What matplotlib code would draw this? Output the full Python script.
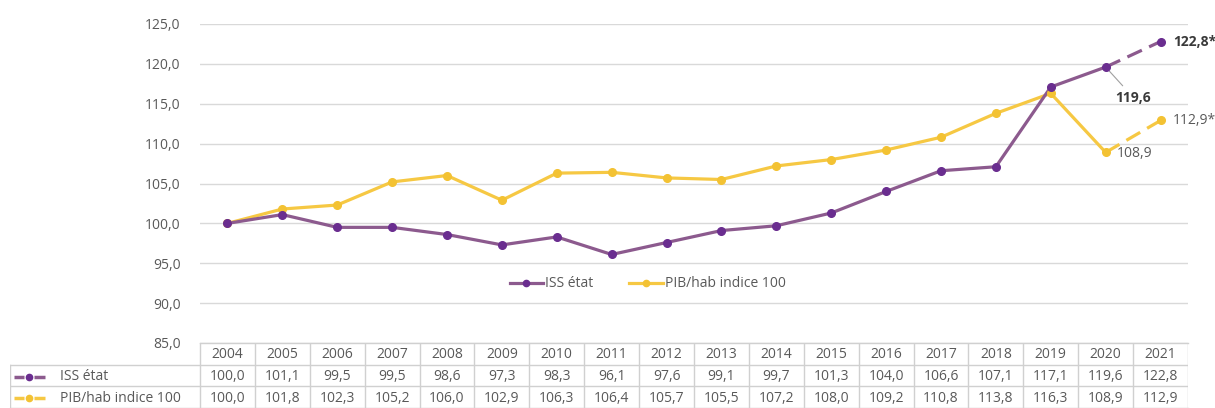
import matplotlib.pyplot as plt
import numpy as np

# Data
years = [2004, 2005, 2006, 2007, 2008, 2009, 2010, 2011, 2012,
         2013, 2014, 2015, 2016, 2017, 2018, 2019, 2020, 2021]
iss_etat = [100.0, 101.1, 99.5, 99.5, 98.6, 97.3, 98.3, 96.1, 97.6,
            99.1, 99.7, 101.3, 104.0, 106.6, 107.1, 117.1, 119.6, 122.8]
pib_hab = [100.0, 101.8, 102.3, 105.2, 106.0, 102.9, 106.3, 106.4, 105.7,
           105.5, 107.2, 108.0, 109.2, 110.8, 113.8, 116.3, 108.9, 112.9]
labels = ['ISS état', 'PIB/hab indice 100']
y_ticks = [85, 90, 95, 100, 105, 110, 115, 120, 125]

def fr(v):
    return f'{v:.1f}'.replace('.', ',')

plt.rcParams['font.family'] = ['Open Sans', 'DejaVu Sans']
grey = '#595959'
dark = '#3a3a3a'
purple_line = '#8c5a8e'
purple_mark = '#6a2d8f'
yellow = '#f6c843'
yellow_mark = '#f3c233'
gridc = '#d9d9d9'

W, H = 1215, 408
fig = plt.figure(figsize=(W / 100, H / 100), dpi=100)
ax = fig.add_axes([200 / W, 65 / H, 988 / W, 319 / H])

x = np.arange(len(years))
n = len(years)

# Lines: solid up to 2020, dashed 2020-2021
ax.plot(x[:-1], pib_hab[:-1], color=yellow, lw=2.3, solid_capstyle='round', zorder=3)
ax.plot(x[-2:], pib_hab[-2:], color=yellow, lw=2.3, ls=(0, (5, 2.5)), zorder=3)
ax.plot(x, pib_hab, ls='none', marker='o', ms=5.5, color=yellow_mark, zorder=4)

ax.plot(x[:-1], iss_etat[:-1], color=purple_line, lw=2.3, solid_capstyle='round', zorder=3)
ax.plot(x[-2:], iss_etat[-2:], color=purple_line, lw=2.3, ls=(0, (5, 2.5)), zorder=3)
ax.plot(x, iss_etat, ls='none', marker='o', ms=5.5, color=purple_mark, zorder=4)

# Legend proxies
ax.plot([], [], color=purple_line, lw=2.3, marker='o', ms=4.5, mfc=purple_mark, mec=purple_mark, label=labels[0])
ax.plot([], [], color=yellow, lw=2.3, marker='o', ms=4.5, mfc=yellow_mark, mec=yellow_mark, label=labels[1])
ax.legend(loc='center', bbox_to_anchor=(0.453, 0.185), ncol=2, frameon=False,
          fontsize=10, labelcolor=grey, handlelength=2.4, handletextpad=0.15,
          columnspacing=2.6)

# Annotations
ax.annotate(fr(iss_etat[-1]) + '*', (x[-1], iss_etat[-1]), xytext=(9, 0),
            textcoords='offset points', va='center', ha='left',
            fontsize=10, fontweight='bold', color=dark)
ax.annotate(fr(iss_etat[-2]), (x[-2], iss_etat[-2]), xytext=(20, -22),
            textcoords='offset points', va='center', ha='center',
            fontsize=10, fontweight='bold', color=dark,
            arrowprops=dict(arrowstyle='-', color='#a0a0a0', lw=0.8,
                            shrinkA=2, shrinkB=4))
ax.annotate(fr(pib_hab[-2]), (x[-2], pib_hab[-2]), xytext=(8, -1),
            textcoords='offset points', va='center', ha='left',
            fontsize=10, color=grey)
ax.annotate(fr(pib_hab[-1]) + '*', (x[-1], pib_hab[-1]), xytext=(9, 0),
            textcoords='offset points', va='center', ha='left',
            fontsize=10, color=grey)

ax.set_xlim(-0.5, n - 0.5)
ax.set_ylim(85, 125)
ax.set_yticks(y_ticks)
ax.set_yticklabels([fr(v) for v in y_ticks])
ax.set_xticks([])
ax.tick_params(axis='y', length=0, pad=14, labelsize=10, labelcolor=grey)
ax.yaxis.grid(True, color=gridc, lw=1)
ax.set_axisbelow(True)
for s in ax.spines.values():
    s.set_visible(False)

# Data table below the chart
px = 1 / (988 / n)
xl = -0.5 - 190 * px
tax = fig.add_axes([10 / W, 0, 1178 / W, 65 / H])
tax.set_xlim(xl, n - 0.5)
tax.set_ylim(3, 0)
tax.axis('off')

lc = '#d0d0d0'
tax.plot([-0.5, n - 0.5], [0.02, 0.02], color=lc, lw=1, clip_on=False)
for r in (1, 2):
    tax.plot([xl, n - 0.5], [r, r], color=lc, lw=1)
tax.plot([xl, n - 0.5], [2.98, 2.98], color=lc, lw=1, clip_on=False)
for k in range(n + 1):
    tax.plot([k - 0.5, k - 0.5], [0, 3], color=lc, lw=1)
tax.plot([xl, xl], [1, 3], color=lc, lw=1)

for i, yr in enumerate(years):
    tax.text(i, 0.55, str(yr), ha='center', va='center', fontsize=10, color=grey)
    tax.text(i, 1.55, fr(iss_etat[i]), ha='center', va='center', fontsize=10, color=grey)
    tax.text(i, 2.55, fr(pib_hab[i]), ha='center', va='center', fontsize=10, color=grey)

for r, (lab, lcol, mcol) in enumerate([(labels[0], purple_line, purple_mark),
                                        (labels[1], yellow, yellow_mark)]):
    yy = r + 1.55
    tax.plot([xl + 4 * px, xl + 14 * px], [yy, yy], color=lcol, lw=2.5, solid_capstyle='butt')
    tax.plot([xl + 24 * px, xl + 35 * px], [yy, yy], color=lcol, lw=2.5, solid_capstyle='butt')
    tax.plot([xl + 19 * px], [yy], marker='o', ms=4.5, color=mcol, ls='none')
    tax.text(xl + 50 * px, yy, lab, ha='left', va='center', fontsize=10, color=grey)

fig.savefig('out.png', dpi=100)
